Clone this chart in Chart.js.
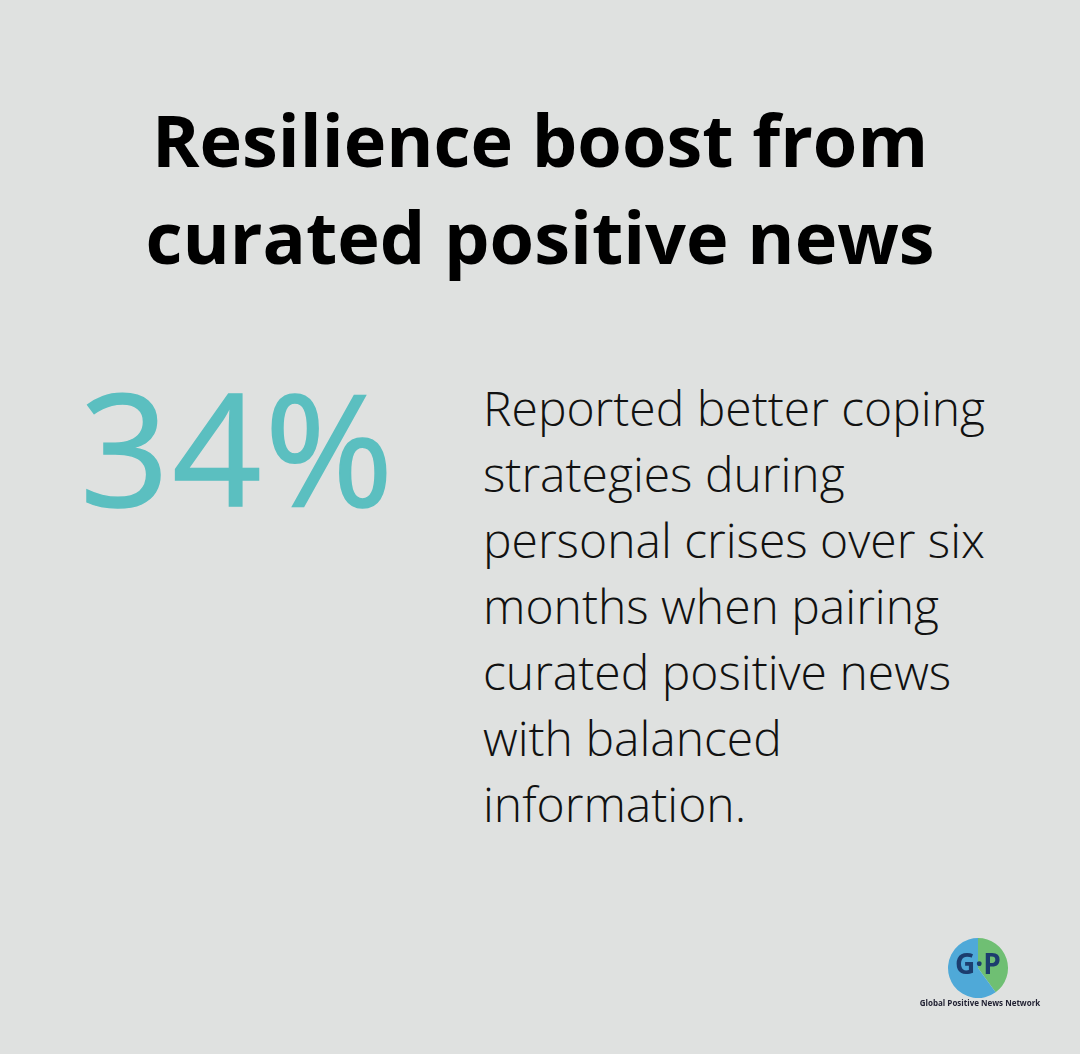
<!DOCTYPE html>
<html><head><meta charset="utf-8">
<script src="https://cdn.jsdelivr.net/npm/chart.js@4"></script>
<style>
html,body{margin:0;padding:0;}
body{width:1080px;height:1054px;background:#dfe1e0;position:relative;overflow:hidden;font-family:"Open Sans",sans-serif;}
#title{position:absolute;left:0;width:1080px;top:91px;text-align:center;font-weight:700;font-size:72px;line-height:97px;color:#000;}
#stat{position:absolute;left:80px;top:346px;font-size:156px;font-weight:400;color:#5bbfc0;line-height:200px;letter-spacing:3px;-webkit-text-stroke:1.5px #5bbfc0;}
#desc{position:absolute;left:483px;top:375px;width:560px;font-size:48px;font-weight:300;line-height:66px;color:#111;}
#logo{position:absolute;left:940px;top:930px;width:76px;height:76px;}
#logotext{position:absolute;left:900px;top:997px;width:160px;text-align:center;font-size:8px;font-weight:700;color:#223;}
#gp{position:absolute;left:940px;top:944px;width:76px;text-align:center;font-size:28px;font-weight:700;color:#1c3d6e;}
</style></head><body>
<div id="title"></div>
<div id="stat"></div>
<div id="desc"></div>
<canvas id="logo" width="76" height="76"></canvas>
<div id="gp">G·P</div>
<div id="logotext">Global Positive News Network</div>
<script>
const titleLines = ["Resilience boost from", "curated positive news"];
const statValue = [34];
const statLabel = ["34%"];
const descLines = ["Reported better coping", "strategies during", "personal crises over six", "months when pairing", "curated positive news", "with balanced", "information."];
const logoParts = ["land", "sea"];
const logoValues = [40, 60];
document.getElementById('title').innerHTML = titleLines.join('<br>');
document.getElementById('stat').textContent = statLabel[0];
document.getElementById('desc').innerHTML = descLines.join('<br>');
new Chart(document.getElementById('logo'), {
  type: 'pie',
  data: { labels: logoParts, datasets: [{ data: logoValues, backgroundColor: ['#6fbf73', '#4fa9d8'], borderWidth: 0 }] },
  options: { responsive: false, animation: false, plugins: { legend: { display: false }, tooltip: { enabled: false } }, layout: { padding: 8 } }
});
</script>
</body></html>
